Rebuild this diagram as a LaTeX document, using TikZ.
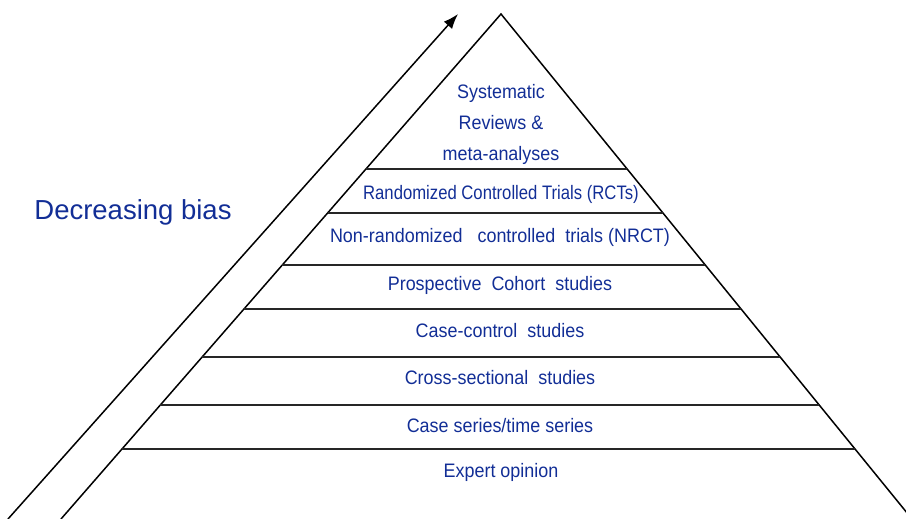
\documentclass[tikz,border=0pt]{standalone}
\usepackage{fontspec}
\setmainfont{Liberation Sans}
\newfontfamily\narrowfont[FakeStretch=0.92]{Liberation Sans}
\usetikzlibrary{calc,arrows.meta}
\definecolor{biasblue}{RGB}{18,46,150}

\begin{document}
\begin{tikzpicture}[x=1pt,y=-1pt,
	tier/.style={text=biasblue,font=\narrowfont\fontsize{19.5}{31}\selectfont,align=center,inner sep=0pt,anchor=base},
	rung/.style={line width=1.4pt,black!85}]
\useasboundingbox (0,0) rectangle (906,519);
\clip (0,0) rectangle (906,519);
% pyramid outline
\coordinate (apex) at (501,14);
\coordinate (bl) at (61,519);
\coordinate (br) at (912,519);
\draw[line width=1.5pt] (bl) -- (apex) -- (br);
\foreach \y in {169,213,265,309,357,405,449}
	\draw[rung] ($(apex)!{(\y-14)/505}!(bl)$) -- ($(apex)!{(\y-14)/505}!(br)$);
% arrow
\coordinate (arrfoot) at (8,519);
\coordinate (arrtip) at (458,14);
\draw[line width=1.5pt,-{Latex[length=15pt,width=11pt]}] (arrfoot) -- (arrtip);
\node[text=biasblue,font=\fontsize{27.5}{30}\selectfont,inner sep=0pt,anchor=base] (bias) at (133,219) {Decreasing bias};
% tiers
\node[tier,anchor=center] (sr) at (501,124) {Systematic\\Reviews \&\\meta-analyses};
\node[tier] (rct) at (501,199) {\scalebox{0.93}[1]{Randomized Controlled Trials (RCTs)}};
\node[tier] (nrct) at (500,242) {Non-randomized\ \ \ controlled\ \ trials (NRCT)};
\node[tier] (pcs) at (500,290) {Prospective\ \ Cohort\ \ studies};
\node[tier] (cc) at (500,337) {Case-control\ \ studies};
\node[tier] (cs) at (500,384) {Cross-sectional\ \ studies};
\node[tier] (ser) at (500,432) {Case series/time series};
\node[tier] (exp) at (501,477) {Expert opinion};
\end{tikzpicture}
\end{document}
